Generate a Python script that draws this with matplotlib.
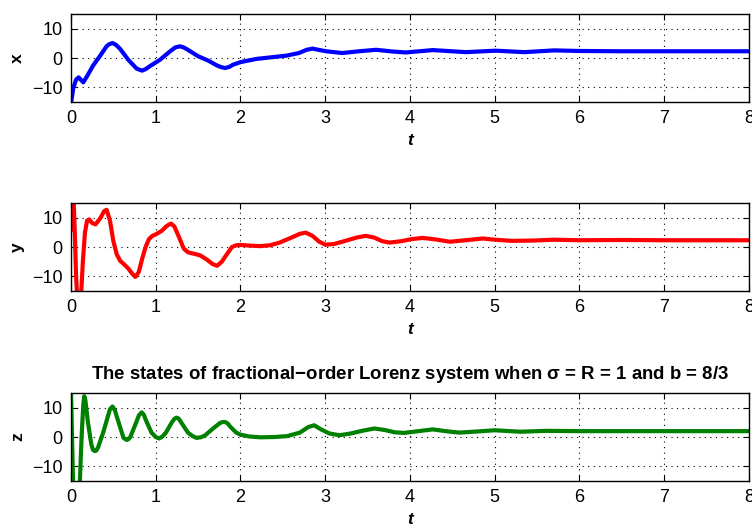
import numpy as np
import matplotlib
matplotlib.use('Agg')
import matplotlib.pyplot as plt

#values (time, state)
t_x = [0, 0.027, 0.06, 0.09, 0.145, 0.2, 0.26, 0.34, 0.42, 0.45, 0.49, 0.53,
       0.58, 0.676, 0.774, 0.8, 0.84, 0.88, 0.93, 1.05, 1.17, 1.23, 1.285,
       1.33, 1.38, 1.5, 1.62, 1.72, 1.77, 1.82, 1.87, 1.91, 2.0, 2.19, 2.54,
       2.69, 2.78, 2.85, 2.92, 3.01, 3.2, 3.4, 3.6, 3.8, 3.95, 4.27, 4.66,
       5.01, 5.35, 5.7, 6.0, 6.5, 7.0, 7.5, 8.0]
x_vals = [-15.5, -10.2, -7.4, -6.6, -8.3, -5.7, -2.6, 0.6, 4.0, 4.7, 5.1, 4.5,
          3.1, -0.6, -3.6, -3.9, -4.3, -3.8, -2.8, -0.6, 2.3, 3.6, 4.0,
          3.6, 2.8, 0.6, -0.9, -2.5, -3.1, -3.4, -3.0, -2.3, -1.4, -0.3, 0.8,
          1.7, 2.8, 3.2, 2.8, 2.3, 1.7, 2.3, 2.8, 2.2, 1.9, 2.7, 2.0,
          2.5, 2.0, 2.6, 2.4, 2.3, 2.3, 2.3, 2.3]

t_y = [0, 0.01, 0.02, 0.03, 0.045, 0.06, 0.075, 0.1, 0.12, 0.14, 0.165, 0.19,
       0.215, 0.25, 0.29, 0.35, 0.39, 0.42, 0.46, 0.5, 0.54, 0.58, 0.63, 0.675,
       0.72, 0.76, 0.8, 0.84, 0.88, 0.92, 0.96, 1.0, 1.07, 1.13, 1.18, 1.22,
       1.28, 1.33, 1.38, 1.45, 1.52, 1.6, 1.67, 1.725, 1.78, 1.85, 1.9, 1.95,
       2.0, 2.1, 2.23, 2.35, 2.46, 2.6, 2.7, 2.77, 2.85, 2.93, 3.0, 3.1, 3.25,
       3.38, 3.48, 3.58, 3.67, 3.76, 3.9, 4.02, 4.15, 4.3, 4.47, 4.65, 4.86,
       5.0, 5.2, 5.45, 5.7, 6.0, 6.5, 7.0, 8.0]
y_vals = [6, 15, 19, 17, 5, -10, -18, -20, -16, -5, 5, 9,
          9.4, 8.2, 7.7, 10, 12.2, 12.7, 9, 2, -2.5, -4.7, -6, -7.3,
          -9, -10.2, -8.5, -4, 0, 2.7, 3.8, 4.3, 5.5, 7.2, 8.0, 7,
          3, -0.5, -1.8, -2.3, -2.8, -4.2, -5.8, -6.4, -5, -2, 0, 0.6,
          0.7, 0.5, 0.3, 0.6, 1.5, 3.2, 4.5, 4.9, 3.8, 1.8, 0.8, 1.0, 2.2,
          3.3, 3.8, 3.2, 2.0, 1.5, 2.0, 2.7, 3.1, 2.6, 1.8, 2.3, 2.9,
          2.5, 2.1, 2.2, 2.5, 2.3, 2.4, 2.3, 2.3]

t_z = [0, 0.012, 0.024, 0.05, 0.08, 0.105, 0.125, 0.145, 0.157, 0.17, 0.2,
       0.24, 0.26, 0.283, 0.3, 0.32, 0.38, 0.44, 0.46, 0.49, 0.52, 0.54, 0.6,
       0.62, 0.656, 0.68, 0.7, 0.77, 0.8, 0.833, 0.86, 0.88, 0.95, 1.0, 1.04,
       1.08, 1.12, 1.19, 1.22, 1.245, 1.27, 1.3, 1.38, 1.43, 1.48, 1.53, 1.58,
       1.68, 1.76, 1.79, 1.82, 1.85, 1.88, 1.95, 2.0, 2.1, 2.23, 2.4, 2.55,
       2.7, 2.8, 2.87, 2.95, 3.05, 3.17, 3.3, 3.45, 3.58, 3.7, 3.82, 3.93, 4.1,
       4.27, 4.42, 4.58, 4.8, 5.0, 5.3, 5.6, 6.0, 7.0, 8.0]
z_vals = [16, 0, -15, -22, -20, -15, 0, 11, 13.9, 12.5, 5,
          -2.5, -4.4, -4.8, -4.6, -3.5, 1.5, 7.5, 9.5, 10.4, 9.0, 7, 1.5,
          -0.3, -1.0, -0.7, 0, 5, 7.3, 8.4, 7.6, 6, 1.5, 0.0, -0.5,
          0.2, 1.5, 5, 6.2, 6.6, 6.3, 5, 1.5, 0.4, -0.3, -0.1, 0.5,
          3, 4.8, 5.1, 5.1, 4.6, 3.5, 1.5, 0.8, 0.2, -0.1, 0, 0.3,
          1.5, 3.4, 4.0, 2.6, 1.2, 0.6, 1.2, 2.2, 2.9, 2.4, 1.6, 1.4, 2.0,
          2.6, 2.0, 1.5, 1.9, 2.3, 1.8, 2.1, 2.0, 2.0, 2.0]

x_ticks = [0, 1, 2, 3, 4, 5, 6, 7, 8]
y_ticks = [-10, 0, 10]
title = r'The states of fractional$-$order Lorenz system when $\sigma$ = R = 1 and b = 8/3'

plt.rcParams['font.family'] = ['Liberation Sans', 'DejaVu Sans']
plt.rcParams['mathtext.default'] = 'regular'

def panel(ax, t, v, color, name):
    #draw one matlab-like subplot
    ax.plot(t, v, color=color, lw=3)
    ax.set_xlim(0, 8)
    ax.set_ylim(-15, 15)
    ax.set_xticks(x_ticks)
    ax.set_yticks(y_ticks)
    ax.grid(True, color='black', linestyle=(0, (1, 4)), lw=0.8)
    ax.tick_params(direction='in', top=True, right=True, labelsize=13,
                   length=4, pad=6)
    ax.set_xlabel('t', fontsize=12.5, fontweight='bold', style='italic', labelpad=4)
    ax.set_ylabel(name, fontsize=12.5, fontweight='bold', labelpad=5)
    for s in ax.spines.values():
        s.set_linewidth(1.0)

fig = plt.figure(figsize=(7.52, 5.25), dpi=100)
ax1 = fig.add_axes([0.0944, 0.8057, 0.9016, 0.1676])
ax2 = fig.add_axes([0.0944, 0.4457, 0.9016, 0.1676])
ax3 = fig.add_axes([0.0944, 0.0838, 0.9016, 0.1676])

panel(ax1, t_x, x_vals, '#0000ff', 'x')
panel(ax2, t_y, y_vals, '#ff0000', 'y')
panel(ax3, t_z, z_vals, '#008000', 'z')
ax3.set_title(title, fontsize=13.4, fontweight='bold', pad=10)

fig.savefig('out.png', dpi=100)
